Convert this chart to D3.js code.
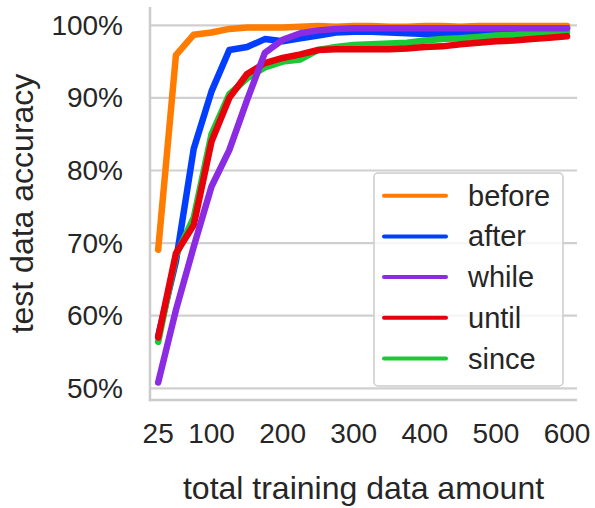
<!DOCTYPE html>
<html>
<head>
<meta charset="utf-8">
<script src="https://cdn.jsdelivr.net/npm/d3@7"></script>
<style>
  html, body { margin: 0; padding: 0; background: #fff; }
  text { font-family: "Liberation Sans", Arial, sans-serif; fill: #262626; }
</style>
</head>
<body>
<div id="chart"></div>
<script>
'use strict';
// training sizes 25..600 (step 25)
const amounts = [25, 50, 75, 100, 125, 150, 175, 200, 225, 250, 275, 300,
                 325, 350, 375, 400, 425, 450, 475, 500, 525, 550, 575, 600];

const before = [69.1, 95.9, 98.7, 99.0, 99.5, 99.7, 99.7, 99.7, 99.8, 99.9, 99.8, 99.9,
                99.9, 99.8, 99.8, 99.9, 99.9, 99.8, 99.9, 99.9, 99.9, 99.9, 99.9, 99.9];
const after = [57.2, 67.5, 83.0, 90.9, 96.6, 97.0, 98.1, 97.8, 98.2, 98.6, 99.0, 99.1,
               99.1, 99.0, 98.9, 98.8, 98.8, 99.0, 99.1, 99.2, 99.2, 99.4, 99.5, 99.6];
const whileV = [50.8, 60.8, 69.5, 77.8, 82.8, 89.7, 96.2, 98.0, 98.9, 99.3, 99.5, 99.6,
                99.6, 99.6, 99.6, 99.6, 99.6, 99.6, 99.6, 99.6, 99.6, 99.6, 99.6, 99.6];
const until = [57.0, 68.6, 72.5, 84.0, 90.0, 93.3, 94.8, 95.5, 96.0, 96.6, 96.7, 96.7,
               96.7, 96.7, 96.8, 97.0, 97.1, 97.4, 97.6, 97.8, 97.9, 98.1, 98.3, 98.5];
const since = [56.4, 68.3, 73.5, 85.0, 90.5, 92.7, 94.2, 95.0, 95.3, 96.6, 97.0, 97.3,
               97.4, 97.5, 97.6, 97.9, 98.1, 98.2, 98.4, 98.6, 98.7, 98.9, 99.0, 99.1];

const xTicks = [25, 100, 200, 300, 400, 500, 600];
const yTicks = [50, 60, 70, 80, 90, 100];

const labels = ['before', 'after', 'while', 'until', 'since'];
const colors = ['#FF7C00', '#023EFF', '#8B2BE2', '#E8000B', '#1AC938'];
const seriesList = [before, after, whileV, until, since];
const drawOrder = [0, 1, 4, 3, 2];

((d3) => {
  const width = 595, height = 508;
  const left = 150, right = 577, top = 7, bottom = 400;

  const svg = d3.select('#chart').append('svg')
    .attr('width', width).attr('height', height);

  const x = d3.scaleLinear().domain([13.5, 614]).range([left, right]);
  const y = d3.scaleLinear().domain([48.39, 102.52]).range([bottom, top]);

  //grid
  svg.append('g').selectAll('line').data(yTicks).enter().append('line')
    .attr('x1', left).attr('x2', right)
    .attr('y1', d => y(d)).attr('y2', d => y(d))
    .attr('stroke', '#d0d0d0').attr('stroke-width', 2.2);

  //spines
  svg.append('line').attr('x1', left).attr('x2', left).attr('y1', top).attr('y2', bottom + 1.2)
    .attr('stroke', '#cccccc').attr('stroke-width', 2.5);
  svg.append('line').attr('x1', left - 1.2).attr('x2', right).attr('y1', bottom).attr('y2', bottom)
    .attr('stroke', '#cccccc').attr('stroke-width', 2.5);

  //tick labels
  svg.append('g').selectAll('text').data(yTicks).enter().append('text')
    .attr('x', 123).attr('y', d => y(d))
    .attr('text-anchor', 'end').attr('dominant-baseline', 'central')
    .style('font-size', '28px')
    .text(d => d + '%');
  svg.append('g').selectAll('text').data(xTicks).enter().append('text')
    .attr('x', d => x(d)).attr('y', 433)
    .attr('text-anchor', 'middle').attr('dominant-baseline', 'central')
    .style('font-size', '28px')
    .text(d => d);

  //axis labels
  svg.append('text')
    .attr('transform', 'translate(' + 22 + ',' + ((top + bottom) / 2) + ') rotate(-90)')
    .attr('text-anchor', 'middle').attr('dominant-baseline', 'central')
    .style('font-size', '32px')
    .text('test data accuracy');
  svg.append('text')
    .attr('x', (left + right) / 2).attr('y', 488)
    .attr('text-anchor', 'middle').attr('dominant-baseline', 'central')
    .style('font-size', '32px')
    .text('total training data amount');

  //lines
  const line = d3.line().x((d, i) => x(amounts[i])).y(d => y(d));
  svg.append('g').selectAll('path').data(drawOrder).enter().append('path')
    .attr('d', k => line(seriesList[k]))
    .attr('fill', 'none')
    .attr('stroke', k => colors[k])
    .attr('stroke-width', 6.5)
    .attr('stroke-linejoin', 'round')
    .attr('stroke-linecap', 'round');

  //legend
  const lg = svg.append('g');
  lg.append('rect')
    .attr('x', 374).attr('y', 173).attr('width', 189).attr('height', 213)
    .attr('rx', 4)
    .attr('fill', 'rgba(255,255,255,0.8)')
    .attr('stroke', '#cccccc').attr('stroke-width', 1.5);
  const item = lg.selectAll('.legend').data(labels).enter().append('g')
    .attr('class', 'legend')
    .attr('transform', (d, i) => 'translate(0,' + (195.7 + i * 40.7) + ')');
  item.append('line')
    .attr('x1', 384).attr('x2', 446).attr('y1', 0).attr('y2', 0)
    .attr('stroke', (d, i) => colors[i]).attr('stroke-width', 4)
    .attr('stroke-linecap', 'round');
  item.append('text')
    .attr('x', 468).attr('y', 0)
    .attr('dominant-baseline', 'central')
    .style('font-size', '29px')
    .text(d => d);
})(window.d3);
</script>
</body>
</html>
